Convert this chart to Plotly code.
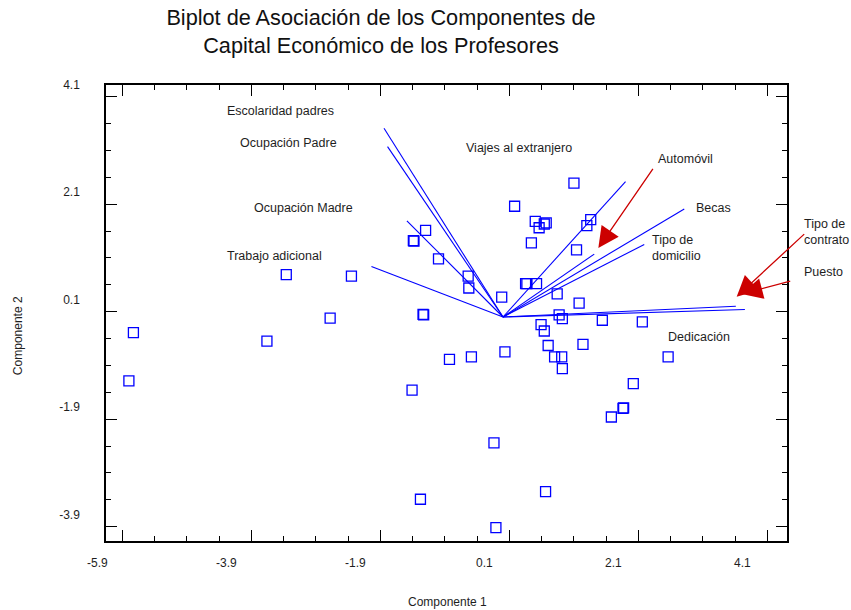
import plotly.graph_objects as go

# Scores of the professors on the first two components
pts_x = [-5.73, -5.80, -3.66, -2.68, -3.36, -2.35, -1.23, -1.24, 0.59, 0.64,
         0.87, 0.92, 1.54, 2.16, 0.70, 1.24, 0.03, -0.49, -0.83, 0.80,
         0.91, 0.92, 2.56, 2.02, 1.86, 1.87, 1.68, -1.41, -0.14, 0.66,
         -1.28, -0.11, 1.10, 0.18, 0.50, 0.56, 0.64, 0.67, 0.44, 1.36,
         1.30, 1.14, -1.20, -1.38, -1.39, -1.00, -0.54, -0.53, -0.02, 0.35,
         0.37, 0.52, 0.84, 1.18]
pts_y = [-0.29, -1.19, -0.45, -0.02, 0.79, 0.76, 0.04, 0.05, -0.14, -0.26,
         0.04, -0.03, -0.06, -0.09, -0.53, -0.51, -0.65, -0.74, -0.79, -0.74,
         -0.74, -0.96, -0.74, -1.24, -1.70, -1.69, -1.86, -1.36, -2.34, -3.25,
         -3.39, -3.92, 2.49, 2.06, 1.78, 1.66, 1.73, 1.75, 1.38, 1.81,
         1.70, 1.25, 1.61, 1.41, 1.42, 1.08, 0.76, 0.54, 0.37, 0.62,
         0.62, 0.62, 0.43, 0.26]

# Variable loadings (vector end points)
var_names = ["Escolaridad padres", "Ocupación Padre", "Ocupación Madre",
             "Trabajo adicional", "Viajes al extranjero", "Becas",
             "Tipo de domicilio", "Automóvil", "Tipo de contrato", "Puesto"]
var_x = [-1.845, -1.79, -1.49, -2.04, 1.90, 2.81, 2.19, 1.415, 3.61, 3.75]
var_y = [3.51, 3.17, 1.79, 0.94, 2.52, 2.01, 1.35, 1.17, 0.20, 0.14]

# Axis ticks
tick_vals_x = [-5.9, -3.9, -1.9, 0.1, 2.1, 4.1]
tick_vals_y = [-3.9, -1.9, 0.1, 2.1, 4.1]
tick_text_x = ["-5.9", "-3.9", "-1.9", "0.1", "2.1", "4.1"]
tick_text_y = ["-3.9", "-1.9", "0.1", "2.1", "4.1"]

BLUE = "#0000ff"
RED = "#cc0000"
TXT = "#1e1e1e"
FONT = "Liberation Sans, Arial, sans-serif"

fig = go.Figure()

for name, vx, vy in zip(var_names, var_x, var_y):
    fig.add_trace(go.Scatter(
        x=[0, vx], y=[0, vy], mode="lines", name=name,
        line=dict(color=BLUE, width=1.1), showlegend=False, hoverinfo="name"))

fig.add_trace(go.Scatter(
    x=pts_x, y=pts_y, mode="markers", showlegend=False,
    marker=dict(symbol="square-open", size=10, color=BLUE,
                line=dict(color=BLUE, width=1.3))))

# Variable labels placed around the vectors (x ref, x, y)
labels = [
    ("Escolaridad padres", "x", -4.295, 3.838),
    ("Ocupación Padre", "x", -4.088, 3.243),
    ("Ocupación Madre", "x", -3.88, 2.033),
    ("Trabajo adicional", "x", -4.295, 1.14),
    ("Viajes al extranjero", "x", -0.589, 3.15),
    ("Automóvil", "x", 2.383, 2.94),
    ("Becas", "x", 2.977, 2.033),
    ("Tipo de<br>domicilio", "x", 2.29, 1.286),
    ("Tipo de<br>contrato", "paper", 1.0235, 1.59),
    ("Puesto", "paper", 1.0235, 0.843),
    ("Dedicación", "x", 2.547, -0.367),
]
annotations = []
for text, xr, lx, ly in labels:
    annotations.append(dict(
        x=lx, y=ly, xref=xr, yref="y", text=text, showarrow=False,
        xanchor="left", yanchor="middle", align="left", borderpad=0,
        font=dict(family=FONT, size=12.5, color=TXT)))

# Pointer arrows: (tip x, tip y, tail x, tail y)
pointers = [
    (1.478, 1.284, 2.34, 2.785),
    (3.623, 0.378, 4.693, 1.568),
    (3.70, 0.428, 4.476, 0.675),
]
for tx, ty, sx, sy in pointers:
    annotations.append(dict(
        x=tx, y=ty, ax=sx, ay=sy, xref="x", yref="y", axref="x", ayref="y",
        text="", showarrow=True, arrowhead=2, arrowsize=3.2, arrowwidth=1.3,
        arrowcolor=RED, standoff=0))

# Axis titles
annotations.append(dict(
    x=0.502, y=-0.1338, xref="paper", yref="paper", text="Componente 1",
    showarrow=False, xanchor="center", yanchor="middle",
    font=dict(family=FONT, size=12, color=TXT)))
annotations.append(dict(
    x=-0.129, y=0.4496, xref="paper", yref="paper", text="Componente 2",
    showarrow=False, xanchor="center", yanchor="middle", textangle=-90,
    font=dict(family=FONT, size=12, color=TXT)))

axis_common = dict(
    showgrid=False, zeroline=False, showline=True, linecolor="black",
    linewidth=1.5, mirror="ticks", ticks="inside", ticklen=11,
    tickwidth=1.3, tickcolor="black",
    tickfont=dict(family=FONT, size=12, color=TXT),
)

fig.update_layout(
    width=851, height=610,
    margin=dict(l=106, r=64, t=85, b=69),
    paper_bgcolor="white", plot_bgcolor="white",
    title=dict(
        text="Biplot de Asociación de los Componentes de<br>Capital Económico de los Profesores",
        x=381 / 851, xanchor="center", xref="container",
        y=1 - 25 / 610, yanchor="middle", yref="container",
        font=dict(family=FONT, size=21.7, color="#111111")),
    xaxis=dict(range=[-6.155, 4.403], tickvals=tick_vals_x, ticktext=tick_text_x,
               minor=dict(dtick=0.5, tick0=-5.9, ticks="inside", ticklen=5,
                          tickwidth=1.2, tickcolor="black"),
               ticklabelshift=-25, ticklabelstandoff=10, **axis_common),
    yaxis=dict(range=[-4.167, 4.316], tickvals=tick_vals_y, ticktext=tick_text_y,
               minor=dict(dtick=0.5, tick0=-3.9, ticks="inside", ticklen=5,
                          tickwidth=1.2, tickcolor="black"),
               ticklabelshift=-12, ticklabelstandoff=22, **axis_common),
    annotations=annotations,
)

fig.write_html("out.html")
